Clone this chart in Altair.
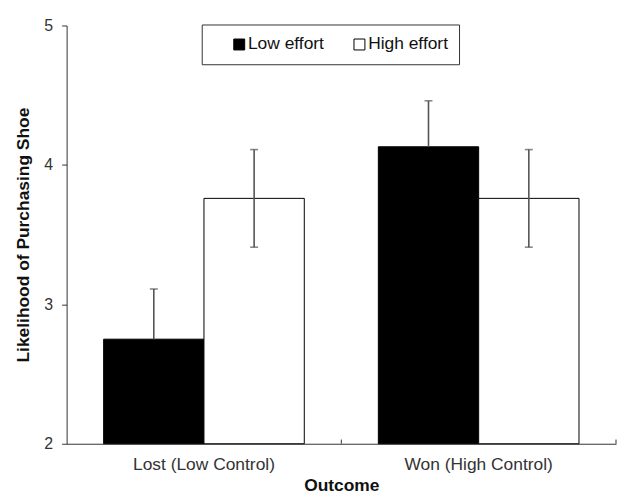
import altair as alt
import pandas as pd

outcomes = ["Lost (Low Control)", "Won (High Control)"]
efforts = ["Low effort", "High effort"]
low_means = [2.75, 4.13]
high_means = [3.76, 3.76]
low_err_hi = [3.11, 4.46]
high_err_lo = [3.41, 3.41]
high_err_hi = [4.11, 4.11]
y_ticks = [2, 3, 4, 5]

rows = []
for i, o in enumerate(outcomes):
    # low-effort error bar: lower half hidden behind the black bar
    rows.append({"outcome": o, "effort": "Low effort", "mean": low_means[i],
                 "lo": low_means[i], "hi": low_err_hi[i], "lowcap": False})
    rows.append({"outcome": o, "effort": "High effort", "mean": high_means[i],
                 "lo": high_err_lo[i], "hi": high_err_hi[i], "lowcap": True})
df = pd.DataFrame(rows)
tick_df = pd.DataFrame({"outcome": outcomes, "y0": [y_ticks[0]] * 2, "y1": [y_ticks[0] + 0.03] * 2})

FONT = "Liberation Sans"
x_enc = alt.X("outcome:N", sort=outcomes,
              scale=alt.Scale(paddingInner=0, paddingOuter=0),
              axis=alt.Axis(title="Outcome", ticks=False, labelAngle=0, labelFontSize=17.5,
                            labelPadding=12, titlePadding=4))
xo_enc = alt.XOffset("effort:N", sort=efforts,
                     scale=alt.Scale(paddingInner=0, paddingOuter=0.369))
y_scale = alt.Scale(domain=[2, 5], nice=False, zero=False)

bars = alt.Chart(df).mark_bar(stroke="black", strokeWidth=1).encode(
    x=x_enc,
    xOffset=xo_enc,
    y=alt.Y("mean:Q", scale=y_scale,
            axis=alt.Axis(title="Likelihood of Purchasing Shoe", values=y_ticks, format="d",
                          grid=False, tickSize=5, labelFontSize=16, labelPadding=9,
                          titlePadding=11)),
    y2=alt.datum(2),
    fill=alt.Fill("effort:N", sort=efforts,
                  scale=alt.Scale(domain=efforts, range=["black", "white"]),
                  legend=alt.Legend(title=None, orient="none", legendX=136, legendY=-1,
                                    direction="horizontal")),
)

err = alt.Chart(df).mark_rule(color="#555", strokeWidth=1.6).encode(
    x=alt.X("outcome:N", sort=outcomes), xOffset=alt.XOffset("effort:N", sort=efforts),
    y=alt.Y("lo:Q", scale=y_scale), y2="hi:Q")
cap_hi = alt.Chart(df).mark_tick(color="#555", size=8, thickness=1.6).encode(
    x=alt.X("outcome:N", sort=outcomes), xOffset=alt.XOffset("effort:N", sort=efforts),
    y=alt.Y("hi:Q", scale=y_scale))
cap_lo = alt.Chart(df).transform_filter("datum.lowcap").mark_tick(
    color="#555", size=8, thickness=1.6).encode(
    x=alt.X("outcome:N", sort=outcomes), xOffset=alt.XOffset("effort:N", sort=efforts),
    y=alt.Y("lo:Q", scale=y_scale))

xticks = alt.Chart(tick_df).mark_rule(color="#333", strokeWidth=1).encode(
    x=alt.X("outcome:N", sort=outcomes, bandPosition=1),
    y=alt.Y("y0:Q", scale=y_scale), y2="y1:Q")

chart = alt.layer(bars, err, cap_hi, cap_lo, xticks).properties(
    width=553, height=421,
    autosize=alt.AutoSizeParams(type="none"),
    padding={"left": 59, "top": 16, "right": 2, "bottom": 53},
).configure(font=FONT).configure_view(stroke=None).configure_axis(
    labelColor="#333", titleFontSize=17.5, titleFontWeight="bold",
    titleColor="#111", domainColor="#333", tickColor="#333", grid=False,
).configure_legend(
    padding=11, strokeColor="#333", columnPadding=8, labelFontSize=17.5, labelColor="#111",
    labelOffset=0, symbolType="square", symbolSize=121, symbolStrokeColor="black",
    symbolStrokeWidth=1, symbolOffset=18,
)

chart.save("out.html", embed_options={"renderer": "svg", "actions": False})
